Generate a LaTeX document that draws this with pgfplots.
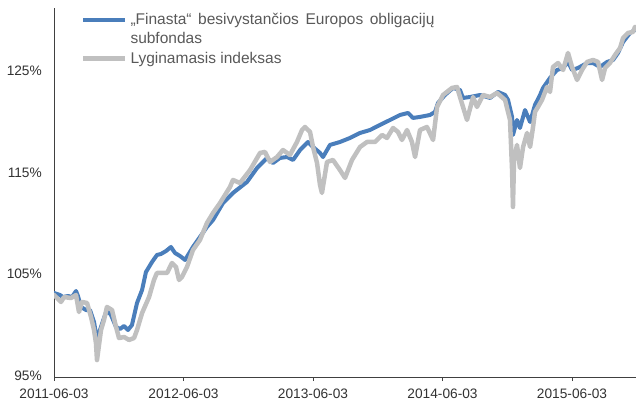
\documentclass[border=0pt]{standalone}
\usepackage{fontspec}
\setmainfont{Liberation Sans}
\usepackage{pgfplots}
\pgfplotsset{compat=1.18}
\definecolor{fundblue}{RGB}{74,126,187}
\definecolor{idxgray}{RGB}{192,192,192}
\definecolor{txt}{RGB}{50,50,50}
\definecolor{legtxt}{RGB}{89,89,89}
\pgfplotsset{
  legimgA/.style={legend image code/.code={\draw[##1, line cap=butt] (0pt,9.25pt) -- (42pt,9.25pt);}},
  legimgB/.style={legend image code/.code={\draw[##1, line cap=butt] (0pt,0pt) -- (42pt,0pt);}},
}
\begin{document}
\begin{tikzpicture}
\begin{axis}[
  at={(0,0)}, anchor=south west,
  width=582pt, height=369pt, scale only axis,
  xmin=0, xmax=4.494, ymin=95, ymax=131.35,
  axis x line=bottom, axis y line=left,
  axis line style={-, draw=black!75, line width=0.8pt},
  xtick={0,1,2,3,4},
  xticklabels={2011-06-03,2012-06-03,2013-06-03,2014-06-03,2015-06-03},
  ytick={95,105,115,125},
  yticklabels={95\%,105\%,115\%,125\%},
  tick align=outside,
  major tick length=4pt,
  ytick style={draw=none},
  xtick style={draw=black!75, line width=0.8pt},
  tick label style={font=\fontsize{13.7}{16}\selectfont, text=txt},
  yticklabel style={inner sep=0pt, xshift=-8pt, yshift=1.5pt},
  xticklabel style={inner sep=0pt, yshift=-8pt},
  /pgf/number format/assume math mode=true,
  legend style={at={(rel axis cs:0,1)}, anchor=north west, xshift=27pt, yshift=-5.5pt,
    draw=none, fill=none, inner sep=0pt, outer sep=0pt,
    /tikz/row sep=7.5pt, /tikz/column sep=3pt,
    font=\fontsize{15.5}{18.5}\selectfont, text=legtxt,
    cells={align=left, anchor=west}, nodes={inner sep=0pt}},
]
\coordinate (sw) at (rel axis cs:0,0);
\coordinate (ne) at (rel axis cs:1,1);
\addplot[fundblue, line width=4pt, line join=round, line cap=round, legimgA] coordinates {
(0,103.28) (0.046,103.08) (0.069,102.88) (0.108,102.98) (0.139,102.88) (0.170,103.47)
(0.185,102.98) (0.208,101.90) (0.247,101.60) (0.278,101.60) (0.309,100.42) (0.332,98.65)
(0.355,99.63) (0.386,100.81) (0.409,101.60) (0.440,101.11) (0.479,99.93) (0.510,99.73)
(0.541,100.03) (0.571,99.63) (0.602,100.12) (0.641,102.29) (0.680,103.57) (0.710,105.34)
(0.757,106.33) (0.795,107.02) (0.826,107.12) (0.865,107.41) (0.903,107.81) (0.934,107.22)
(0.973,106.92) (1.012,106.53) (1.073,107.81) (1.127,108.79) (1.181,109.78) (1.228,110.47)
(1.305,112.14) (1.382,113.13) (1.490,114.21) (1.568,115.59) (1.645,116.58) (1.691,116.08)
(1.745,116.58) (1.799,116.67) (1.846,116.38) (1.900,117.36) (1.961,118.15) (2.000,117.66)
(2.054,117.07) (2.077,116.67) (2.131,117.86) (2.208,118.15) (2.286,118.55) (2.363,119.04)
(2.440,119.33) (2.517,119.83) (2.595,120.32) (2.672,120.81) (2.734,121.01) (2.772,120.52)
(2.826,120.62) (2.903,120.81) (2.942,121.11) (2.965,121.99) (3.019,122.78) (3.081,123.47)
(3.135,123.27) (3.158,122.49) (3.212,122.58) (3.290,122.78) (3.367,122.49) (3.429,123.08)
(3.483,122.78) (3.506,122.29) (3.537,120.62) (3.544,118.84) (3.575,120.32) (3.598,119.53)
(3.637,121.30) (3.676,120.12) (3.714,121.80) (3.753,122.78) (3.776,123.47) (3.830,124.46)
(3.884,125.24) (3.931,125.44) (3.969,126.03) (4.000,125.24) (4.046,125.44) (4.116,125.93)
(4.162,125.93) (4.216,125.54) (4.270,126.03) (4.317,126.23) (4.355,126.92) (4.394,128.00)
(4.448,128.89) (4.486,129.19)
};
\addlegendentry{\makebox[304pt][s]{„Finasta“ besivystančios Europos obligacijų}\\subfondas}
\addplot[idxgray, line width=4.5pt, line join=round, line cap=round, legimgB] coordinates {
(0,103.08) (0.054,102.39) (0.077,102.88) (0.131,102.78) (0.170,103.08) (0.193,101.40)
(0.216,102.39) (0.255,102.29) (0.286,100.91) (0.309,99.63) (0.324,98.35) (0.332,96.67)
(0.363,99.63) (0.386,100.62) (0.409,101.90) (0.448,101.60) (0.479,99.93) (0.502,98.84)
(0.541,98.94) (0.579,98.65) (0.618,98.84) (0.641,99.63) (0.680,101.30) (0.734,102.88)
(0.772,104.56) (0.795,105.25) (0.873,105.25) (0.911,106.23) (0.942,105.84) (0.965,104.56)
(0.988,104.85) (1.027,105.84) (1.073,107.51) (1.127,108.50) (1.181,110.17) (1.228,111.16)
(1.282,112.14) (1.359,113.72) (1.382,114.41) (1.436,114.11) (1.514,115.39) (1.591,117.07)
(1.629,117.17) (1.668,116.18) (1.722,116.67) (1.768,117.36) (1.822,116.87) (1.876,118.15)
(1.915,119.33) (1.938,119.63) (1.977,119.14) (2.000,117.66) (2.031,116.08) (2.054,113.92)
(2.069,113.13) (2.108,116.18) (2.154,116.38) (2.208,115.39) (2.247,114.61) (2.301,116.38)
(2.363,117.66) (2.417,118.15) (2.479,118.15) (2.533,118.84) (2.571,118.55) (2.618,119.53)
(2.656,119.14) (2.687,118.35) (2.726,119.33) (2.764,118.15) (2.788,116.67) (2.826,119.33)
(2.880,119.63) (2.927,118.35) (2.958,121.60) (3.004,122.78) (3.073,123.47) (3.112,123.57)
(3.135,122.58) (3.189,120.32) (3.236,122.58) (3.266,121.60) (3.313,122.78) (3.367,122.58)
(3.421,122.98) (3.483,122.29) (3.521,120.32) (3.537,115.39) (3.544,111.75) (3.552,116.38)
(3.575,117.86) (3.598,115.59) (3.622,117.66) (3.653,119.04) (3.676,117.66) (3.699,119.63)
(3.714,121.11) (3.737,121.60) (3.768,122.29) (3.807,123.57) (3.830,123.08) (3.853,125.54)
(3.892,125.93) (3.931,125.24) (3.969,126.92) (4.000,125.54) (4.039,124.26) (4.077,125.24)
(4.116,126.03) (4.162,126.23) (4.201,126.03) (4.232,124.26) (4.255,125.44) (4.293,125.93)
(4.332,126.72) (4.371,127.41) (4.394,128.39) (4.432,128.89) (4.471,128.99) (4.486,129.48)
};
\addlegendentry{Lyginamasis indeksas}
\end{axis}
\pgfresetboundingbox
\useasboundingbox ([xshift=-54pt,yshift=-24pt]sw) rectangle ([yshift=8pt]ne);
\end{tikzpicture}
\end{document}
